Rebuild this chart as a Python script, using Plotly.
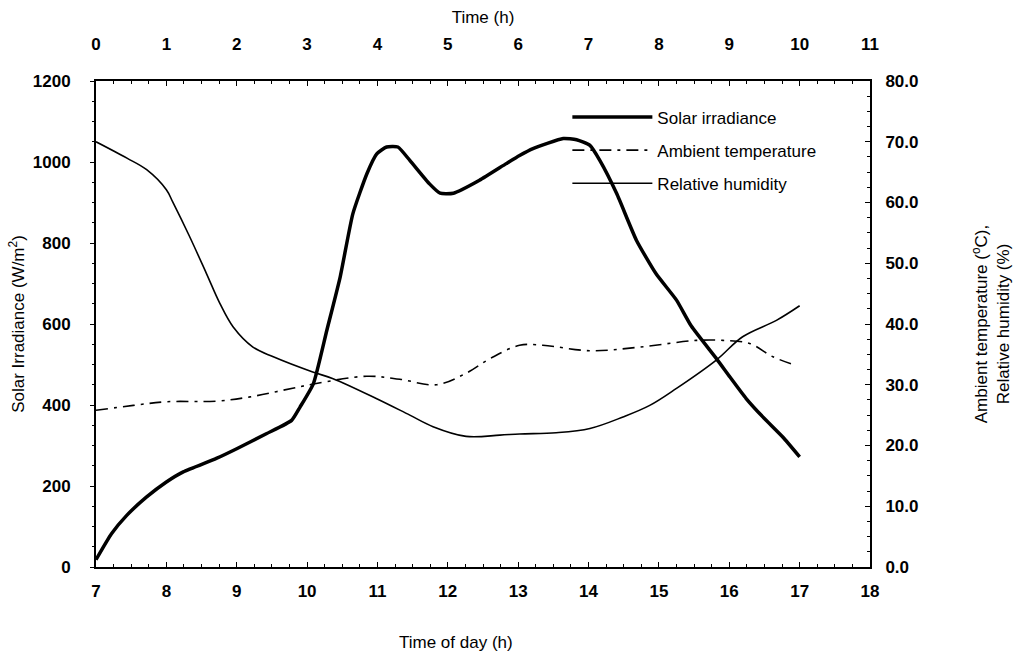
import plotly.graph_objects as go

# Solar irradiance (W/m2) against time of day (h)
solar_t = [7.0, 7.22, 7.44, 7.72, 8.0, 8.24, 8.71, 9.0, 9.42, 9.78, 9.90, 10.09,
           10.28, 10.47, 10.65, 10.85, 10.99, 11.13, 11.29, 11.46, 11.74, 11.89,
           12.08, 12.45, 12.83, 13.02, 13.21, 13.64, 13.83, 14.02, 14.16, 14.40,
           14.68, 14.96, 15.25, 15.46, 15.82, 16.01, 16.24, 16.48, 16.76, 17.0]
solar_w = [18, 82, 128, 173, 210, 235, 268, 292, 329, 362, 395, 453,
           584, 716, 872, 971, 1020, 1037, 1037, 1004, 946, 923,
           923, 955, 996, 1016, 1033, 1058, 1055, 1041, 1004, 922,
           807, 724, 659, 595, 514, 469, 416, 370, 321, 272]

# Ambient temperature (degC)
temp_t = [7.0, 7.53, 8.0, 8.71, 9.19, 9.66, 10.13, 10.85, 11.32, 11.84, 12.26,
          12.6, 13.02, 13.35, 14.02, 14.73, 15.53, 15.91, 16.29, 16.62, 16.95]
temp_c = [25.8, 26.6, 27.2, 27.3, 28.0, 29.1, 30.2, 31.4, 30.9, 30.0, 31.9,
          34.3, 36.5, 36.5, 35.6, 36.2, 37.3, 37.3, 36.8, 34.6, 33.2]

# Relative humidity (%)
rh_t = [7.0, 7.44, 7.72, 8.0, 8.09, 8.33, 8.57, 8.76, 8.95, 9.23, 9.52, 10.08,
        10.37, 10.99, 11.46, 11.79, 12.26, 12.74, 13.02, 13.54, 14.02, 14.49,
        14.87, 15.25, 15.82, 16.19, 16.67, 17.0]
rh_p = [70.0, 67.3, 65.4, 62.1, 60.1, 54.4, 48.3, 43.4, 39.5, 36.2, 34.6, 32.1,
        31.0, 27.7, 25.0, 23.1, 21.5, 21.7, 21.9, 22.1, 22.8, 24.7,
        26.6, 29.4, 34.1, 37.9, 40.6, 43.0]

day_ticks = list(range(7, 19))
elapsed_ticks = list(range(0, 12))

FONT = "Liberation Sans, Arial, sans-serif"
tick_font = dict(family=FONT, size=17, color="black", weight="bold")
title_font = dict(family=FONT, size=17, color="black")

fig = go.Figure()
fig.add_trace(go.Scatter(x=solar_t, y=solar_w, name="Solar irradiance",
                         legendgroup="a", mode="lines",
                         line=dict(color="black", width=3.5, shape="spline", smoothing=0.5),
                         xaxis="x", yaxis="y"))
fig.add_trace(go.Scatter(x=temp_t, y=temp_c, name="Ambient temperature",
                         legendgroup="b", mode="lines",
                         line=dict(color="black", width=1.6,
                                   dash="12px,6px,3px,6px", shape="spline"),
                         xaxis="x", yaxis="y2"))
fig.add_trace(go.Scatter(x=rh_t, y=rh_p, name="Relative humidity",
                         legendgroup="c", mode="lines",
                         line=dict(color="black", width=1.6, shape="spline"),
                         xaxis="x", yaxis="y2"))
# Elapsed-time axis carrier (invisible)
fig.add_trace(go.Scatter(x=[0, 11], y=[None, None], mode="lines", showlegend=False,
                         hoverinfo="skip", xaxis="x2", yaxis="y"))

axis_common = dict(showgrid=False, zeroline=False, linecolor="black", linewidth=2,
                   tickcolor="black", tickfont=tick_font, showline=True,
                   automargin=False)

fig.update_layout(
    width=1013, height=656,
    margin=dict(l=96, r=143, t=81, b=89),
    plot_bgcolor="white", paper_bgcolor="white",
    font=dict(family=FONT, color="black"),
    xaxis=dict(range=[7, 18], tickvals=day_ticks, ticks="inside", ticklen=5,
               minor=dict(dtick=0.25, ticks="inside", ticklen=3, tickcolor="black"),
               ticklabelstandoff=8, **axis_common),
    xaxis2=dict(range=[0, 11], tickvals=elapsed_ticks, overlaying="x", side="top",
                ticks="inside", ticklen=5,
                minor=dict(dtick=0.25, ticks="inside", ticklen=3, tickcolor="black"),
                title=dict(text="Time (h)", font=title_font, standoff=7),
                ticklabelstandoff=22, **axis_common),
    yaxis=dict(range=[0, 1200], dtick=200, ticks="outside", ticklen=4,
               minor=dict(dtick=50, ticks="outside", ticklen=2, tickcolor="black"),
               title=dict(text="Solar Irradiance (W/m<sup>2</sup>)", font=title_font, standoff=4),
               ticklabelstandoff=16, **axis_common),
    yaxis2=dict(range=[0, 80], dtick=10, tickformat=".1f", overlaying="y", side="right",
                ticks="inside", ticklen=5,
                minor=dict(dtick=2.5, ticks="inside", ticklen=3, tickcolor="black"),
                title=dict(text="Ambient temperature (<sup>o</sup>C),<br>Relative humidity (%)",
                           font=title_font, standoff=74),
                ticklabelstandoff=10, **axis_common),
    legend=dict(x=0.609, y=0.962, xanchor="left", yanchor="top", bgcolor="rgba(0,0,0,0)",
                font=dict(family=FONT, size=17, color="black"), itemwidth=80,
                traceorder="grouped", tracegroupgap=8),
    showlegend=True,
    annotations=[dict(text="Time of day (h)", x=0.465, xref="paper", y=-0.155,
                      yref="paper", yanchor="middle", showarrow=False, font=title_font)],
)

fig.write_html("out.html")
